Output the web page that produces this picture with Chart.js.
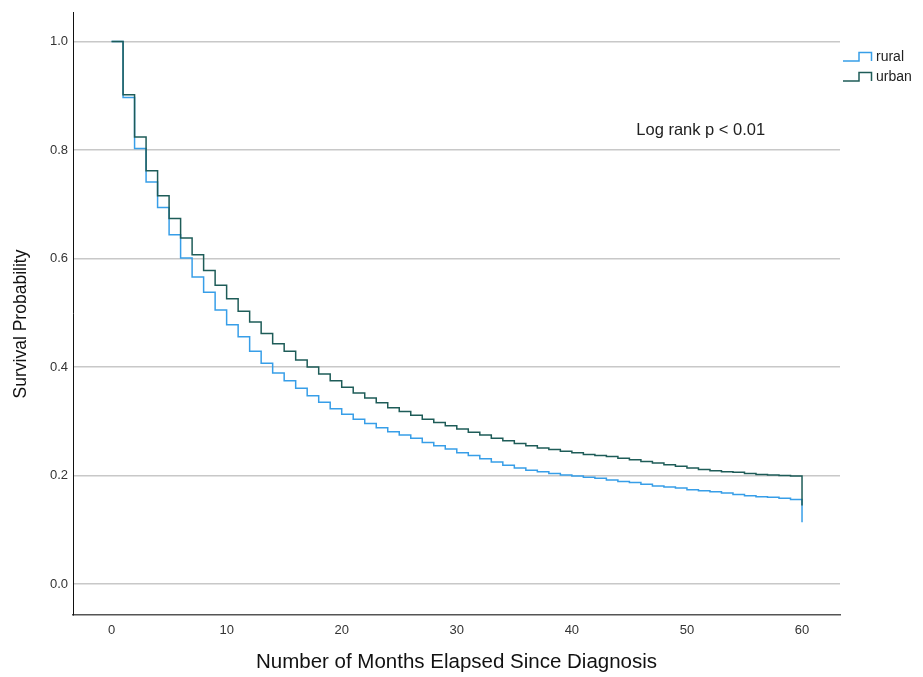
<!DOCTYPE html>
<html lang="en">
<head>
    <meta charset="UTF-8" />
    <title>Survival Probability - rural vs urban</title>
    <script src="https://cdn.jsdelivr.net/npm/chart.js"></script>
    <style>
        html, body { margin: 0; padding: 0; background: #fff; }
    </style>
</head>
<body>
    <canvas id="survivalChart" width="923" height="677"></canvas>

    <script>
        // months since diagnosis (step points)
        const months = [0, 1, 2, 3, 4, 5, 6, 7, 8, 9, 10, 11, 12, 13, 14, 15, 16, 17, 18, 19, 20,
            21, 22, 23, 24, 25, 26, 27, 28, 29, 30, 31, 32, 33, 34, 35, 36, 37, 38, 39, 40,
            41, 42, 43, 44, 45, 46, 47, 48, 49, 50, 51, 52, 53, 54, 55, 56, 57, 58, 59, 60];

        const ruralSurvival = [1.000, 0.897, 0.803, 0.741, 0.694, 0.644, 0.601, 0.566, 0.538, 0.505, 0.478,
            0.456, 0.429, 0.407, 0.389, 0.375, 0.361, 0.347, 0.335, 0.323, 0.313,
            0.304, 0.296, 0.288, 0.281, 0.275, 0.269, 0.261, 0.255, 0.249, 0.242,
            0.237, 0.231, 0.225, 0.219, 0.214, 0.210, 0.207, 0.204, 0.201, 0.199,
            0.197, 0.195, 0.192, 0.189, 0.187, 0.184, 0.181, 0.179, 0.177, 0.174,
            0.172, 0.170, 0.168, 0.165, 0.163, 0.161, 0.160, 0.158, 0.156, 0.114];

        const urbanSurvival = [1.000, 0.902, 0.824, 0.762, 0.716, 0.674, 0.638, 0.607, 0.578, 0.551, 0.526,
            0.503, 0.483, 0.462, 0.443, 0.429, 0.413, 0.400, 0.387, 0.375, 0.363,
            0.352, 0.343, 0.334, 0.325, 0.318, 0.311, 0.304, 0.298, 0.292, 0.286,
            0.280, 0.275, 0.269, 0.264, 0.259, 0.255, 0.251, 0.248, 0.245, 0.242,
            0.239, 0.237, 0.235, 0.232, 0.229, 0.226, 0.223, 0.220, 0.217, 0.214,
            0.211, 0.209, 0.207, 0.206, 0.204, 0.202, 0.201, 0.200, 0.199, 0.145];

        const seriesNames = ['rural', 'urban'];
        const xTicks = [0, 10, 20, 30, 40, 50, 60];
        const yTicks = [0.0, 0.2, 0.4, 0.6, 0.8, 1.0];
        const noteText = 'Log rank p < 0.01';
        const yTitle = 'Survival Probability';

        const FONT = "'Liberation Sans', Arial, sans-serif";
        const ruralColor = 'rgb(55, 158, 232)';
        const urbanColor = 'rgb(30, 92, 88)';

        const toPoints = (vals) => months.map((m, i) => ({ x: m, y: vals[i] }));

        // step-shaped legend in the top right, the log rank note and the y title
        const stepLegend = {
            id: 'stepLegend',
            afterDraw(chart) {
                const ctx = chart.ctx;
                ctx.save();
                chart.data.datasets.forEach((ds, i) => {
                    const y = 61 + i * 20;
                    ctx.strokeStyle = ds.borderColor;
                    ctx.lineWidth = 1.5;
                    ctx.beginPath();
                    ctx.moveTo(843, y);
                    ctx.lineTo(859, y);
                    ctx.lineTo(859, y - 8.5);
                    ctx.lineTo(871.5, y - 8.5);
                    ctx.lineTo(871.5, y);
                    ctx.stroke();
                    ctx.fillStyle = '#222';
                    ctx.font = '14px ' + FONT;
                    ctx.textAlign = 'left';
                    ctx.textBaseline = 'middle';
                    ctx.fillText(ds.label, 876, y - 4);
                });
                const xs = chart.scales.x, ys = chart.scales.y;
                ctx.fillStyle = '#222';
                ctx.font = '16.5px ' + FONT;
                ctx.textAlign = 'center';
                ctx.textBaseline = 'middle';
                ctx.fillText(noteText, xs.getPixelForValue(51.2), ys.getPixelForValue(0.837));

                ctx.translate(21, 324);
                ctx.rotate(-Math.PI / 2);
                ctx.fillStyle = '#111';
                ctx.font = '17.5px ' + FONT;
                ctx.fillText(yTitle, 0, 0);
                ctx.restore();
            }
        };

        const ctx = document.getElementById('survivalChart').getContext('2d');
        const chart = new Chart(ctx, {
            type: 'line',
            data: {
                datasets: [{
                    label: seriesNames[0],
                    data: toPoints(ruralSurvival),
                    borderColor: ruralColor,
                    borderWidth: 1.5,
                    stepped: true,
                    pointRadius: 0,
                    fill: false,
                    order: 1
                }, {
                    label: seriesNames[1],
                    data: toPoints(urbanSurvival),
                    borderColor: urbanColor,
                    borderWidth: 1.5,
                    stepped: true,
                    pointRadius: 0,
                    fill: false,
                    order: 0
                }]
            },
            options: {
                responsive: false,
                animation: false,
                devicePixelRatio: 1,
                layout: { padding: { top: 10, right: 83, bottom: 0, left: 0 } },
                plugins: {
                    legend: { display: false },
                    tooltip: { enabled: false }
                },
                scales: {
                    x: {
                        type: 'linear',
                        min: -3.35,
                        max: 63.3,
                        afterBuildTicks: (scale) => { scale.ticks = xTicks.map(v => ({ value: v })); },
                        afterFit: (scale) => { scale.height = 62; },
                        grid: { display: false, drawTicks: false },
                        border: { display: true, color: '#555', width: 1.5 },
                        ticks: {
                            padding: 8,
                            color: '#333',
                            font: { family: FONT, size: 13 },
                            maxRotation: 0
                        },
                        title: {
                            display: true,
                            text: 'Number of Months Elapsed Since Diagnosis',
                            color: '#111',
                            font: { family: FONT, size: 20.5 },
                            padding: { top: 0, bottom: 2 }
                        }
                    },
                    y: {
                        type: 'linear',
                        min: -0.057,
                        max: 1.053,
                        afterBuildTicks: (scale) => { scale.ticks = yTicks.map(v => ({ value: v })); },
                        afterFit: (scale) => { scale.width = 73; },
                        grid: { color: '#c8c8c8', lineWidth: 1.5, drawTicks: false },
                        border: { display: true, color: '#111', width: 1 },
                        ticks: {
                            padding: 5,
                            color: '#333',
                            font: { family: FONT, size: 13 },
                            callback: (v) => v.toFixed(1)
                        },
                        title: { display: false }
                    }
                }
            },
            plugins: [stepLegend]
        });
    </script>
</body>
</html>
